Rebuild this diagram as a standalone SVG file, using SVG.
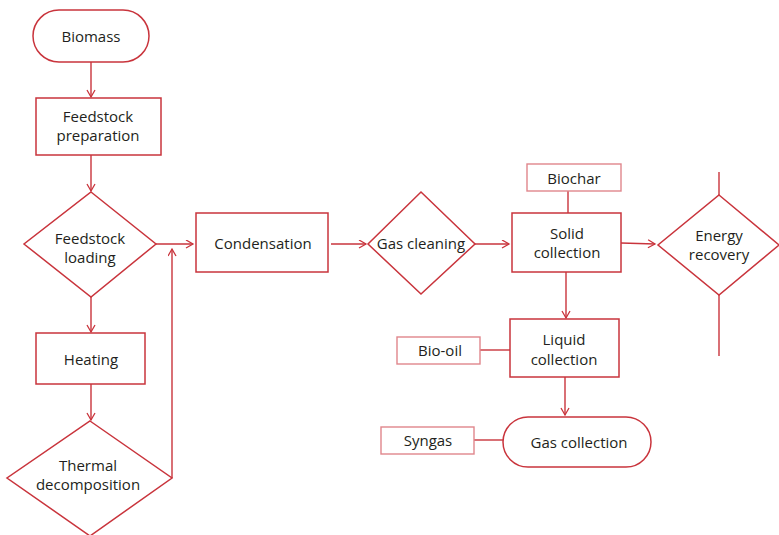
<svg xmlns="http://www.w3.org/2000/svg" width="779" height="535" viewBox="0 0 779 535">
<style>
.s{fill:#fff;stroke:#c9343c;stroke-width:1.5}
.l{fill:#fff;stroke:#e0868c;stroke-width:1.4}
.c{fill:none;stroke:#c9343c;stroke-width:1.4}
text{font-family:"Open Sans","Noto Sans",sans-serif;font-size:15px;fill:#231f20;text-anchor:middle}
</style>
<defs>
<marker id="a" markerWidth="10" markerHeight="10" refX="8" refY="4.5" orient="auto" markerUnits="userSpaceOnUse">
<path d="M1,0.5 L8,4.5 L1,8.5" fill="none" stroke="#c9343c" stroke-width="1.3"/>
</marker>
</defs>
<g id="connectors">
<line class="c" x1="91" y1="62" x2="91" y2="97" marker-end="url(#a)"/>
<line class="c" x1="91" y1="155" x2="91" y2="191" marker-end="url(#a)"/>
<line class="c" x1="156" y1="244" x2="193" y2="244" marker-end="url(#a)"/>
<line class="c" x1="91" y1="297" x2="91" y2="332" marker-end="url(#a)"/>
<line class="c" x1="91" y1="384" x2="91" y2="420" marker-end="url(#a)"/>
<polyline class="c" points="172,478 172,249" marker-end="url(#a)"/>
<line class="c" x1="331" y1="244" x2="366" y2="244" marker-end="url(#a)"/>
<line class="c" x1="475" y1="244" x2="509" y2="244" marker-end="url(#a)"/>
<line class="c" x1="621" y1="243" x2="655" y2="244" marker-end="url(#a)"/>
<line class="c" x1="566" y1="272" x2="566" y2="318" marker-end="url(#a)"/>
<line class="c" x1="565" y1="377" x2="565" y2="415" marker-end="url(#a)"/>
<line class="c" x1="568" y1="191" x2="568" y2="213"/>
<line class="c" x1="480" y1="350" x2="510" y2="350"/>
<line class="c" x1="474" y1="440" x2="503" y2="440"/>
<line class="c" x1="719" y1="172" x2="719" y2="195"/>
<line class="c" x1="719" y1="295" x2="719" y2="356"/>
</g>
<g id="biomass"><rect class="s" x="33" y="10" width="116" height="52" rx="26"/><text x="91" y="42">Biomass</text></g>
<g id="feedstock-preparation"><rect class="s" x="36" y="98" width="125" height="57"/><text x="98" y="122">Feedstock</text><text x="98" y="141">preparation</text></g>
<g id="feedstock-loading"><polygon class="s" points="91,192 156,244 91,297 24,244"/><text x="90" y="244">Feedstock</text><text x="90" y="263">loading</text></g>
<g id="heating"><rect class="s" x="36" y="333" width="109" height="51"/><text x="91" y="365">Heating</text></g>
<g id="thermal-decomposition"><polygon class="s" points="90,421 172,478 90,536 7,478"/><text x="88" y="471">Thermal</text><text x="88" y="490">decomposition</text></g>
<g id="condensation"><rect class="s" x="196" y="213" width="132" height="59"/><text x="263" y="249">Condensation</text></g>
<g id="gas-cleaning"><polygon class="s" points="421,192 475,244 421,294 368,244"/><text x="421" y="249">Gas cleaning</text></g>
<g id="biochar"><rect class="l" x="527" y="164" width="94" height="27"/><text x="574" y="184">Biochar</text></g>
<g id="solid-collection"><rect class="s" x="512" y="213" width="109" height="59"/><text x="567" y="239">Solid</text><text x="567" y="258">collection</text></g>
<g id="energy-recovery"><polygon class="s" points="719,195 779,245 719,295 658,245"/><text x="719" y="241">Energy</text><text x="719" y="260">recovery</text></g>
<g id="bio-oil"><rect class="l" x="397" y="337" width="83" height="27"/><text x="440" y="356">Bio-oil</text></g>
<g id="liquid-collection"><rect class="s" x="510" y="319" width="109" height="58"/><text x="564" y="345">Liquid</text><text x="564" y="365">collection</text></g>
<g id="syngas"><rect class="l" x="381" y="427" width="93" height="27"/><text x="428" y="446">Syngas</text></g>
<g id="gas-collection"><rect class="s" x="503" y="417" width="148" height="50" rx="25"/><text x="579" y="448">Gas collection</text></g>
</svg>
